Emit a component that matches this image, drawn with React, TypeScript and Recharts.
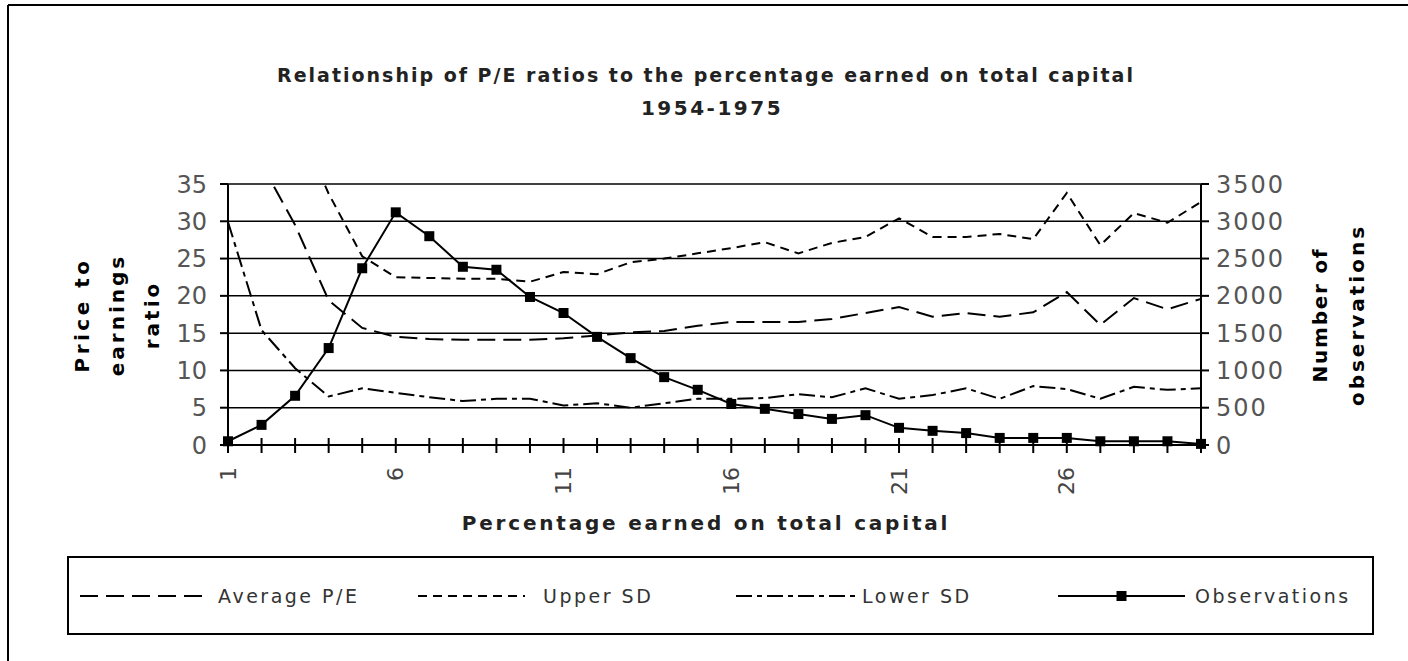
import React from "react";
import { CartesianGrid, Line, LineChart, XAxis, YAxis } from "recharts";

const categories = [1, 2, 3, 4, 5, 6, 7, 8, 9, 10, 11, 12, 13, 14, 15, 16, 17, 18, 19, 20, 21, 22, 23, 24, 25, 26, 27, 28, 29, 30];
const labelTicks = [1, 6, 11, 16, 21, 26];
const leftTicks = [0, 5, 10, 15, 20, 25, 30, 35];
const rightTicks = [0, 500, 1000, 1500, 2000, 2500, 3000, 3500];

const averagePE = [null, 37.7, 29.5, 19.4, 15.7, 14.5, 14.2, 14.1, 14.1, 14.1, 14.3, 14.7, 15.1, 15.3, 16.0, 16.5, 16.5, 16.5, 16.9, 17.7, 18.5, 17.2, 17.7, 17.2, 17.8, 20.5, 16.1, 19.7, 18.2, 19.6];
const upperSD = [null, null, 44, 33.7, 25.3, 22.5, 22.4, 22.3, 22.3, 21.9, 23.2, 22.9, 24.5, 25.0, 25.7, 26.4, 27.2, 25.7, 27.1, 27.9, 30.4, 27.9, 27.9, 28.3, 27.6, 33.8, 26.8, 31.1, 29.8, 32.6];
const lowerSD = [29.9, 15.4, 10.3, 6.5, 7.6, 7.0, 6.4, 5.9, 6.2, 6.2, 5.3, 5.6, 5.0, 5.6, 6.2, 6.2, 6.3, 6.8, 6.4, 7.6, 6.2, 6.7, 7.6, 6.2, 7.9, 7.5, 6.2, 7.8, 7.4, 7.6];
const observations = [50, 270, 660, 1300, 2370, 3120, 2800, 2390, 2350, 1985, 1770, 1450, 1165, 910, 740, 550, 485, 415, 350, 400, 230, 190, 160, 95, 95, 95, 50, 50, 50, 15];

const data = categories.map((c, i) => ({
  pct: c,
  avg: averagePE[i],
  upper: upperSD[i],
  lower: lowerSD[i],
  obs: observations[i],
}));

const FONT = "'DejaVu Sans', sans-serif";

const XTick = (props: any) => {
  const { x, y, payload } = props;
  const show = labelTicks.includes(payload.value);
  return (
    <g>
      <line x1={x} x2={x} y1={y - 7} y2={y + 8} stroke="#000" strokeWidth={2} />
      {show && (
        <text
          transform={`translate(${x},${y + 22}) rotate(-90)`}
          textAnchor="end"
          dominantBaseline="central"
          fontFamily={FONT}
          fontSize={22}
          fill="#444"
        >
          {payload.value}
        </text>
      )}
    </g>
  );
};

const SquareDot = (p: any) => {
  if (p.cx == null || p.cy == null) return <g key={p.index} />;
  return <rect key={p.index} x={p.cx - 5} y={p.cy - 5} width={10} height={10} fill="#000" />;
};

const legendItems = [
  { name: "Average P/E", dash: "18 8", x: 80, w: 130, tx: 218, marker: false },
  { name: "Upper SD", dash: "9 6", x: 418, w: 107, tx: 543, marker: false },
  { name: "Lower SD", dash: "16 5 5 5", x: 736, w: 119, tx: 862, marker: false },
  { name: "Observations", dash: undefined, x: 1058, w: 127, tx: 1195, marker: true },
];

const axisTitles = [
  { t: "Price to", x: 82, ls: 3.5 },
  { t: "earnings", x: 117, ls: 3 },
  { t: "ratio", x: 152, ls: 3 },
  { t: "Number of", x: 1320, ls: 1.8 },
  { t: "observations", x: 1357, ls: 3 },
];

export default function App() {
  return (
    <div style={{ position: "fixed", left: 0, top: 0, width: 1408, height: 661, background: "#fff", overflow: "hidden" }}>
      <LineChart
        width={1408}
        height={661}
        data={data}
        margin={{ top: 184, right: 107, bottom: 176, left: 168 }}
        style={{ position: "absolute", left: 0, top: 0 }}
      >
        <CartesianGrid yAxisId="left" vertical={false} stroke="#000" strokeWidth={1.5} />
        <XAxis
          dataKey="pct"
          type="number"
          domain={[1, 30]}
          ticks={categories}
          interval={0}
          height={40}
          tickSize={0}
          tickMargin={0}
          axisLine={{ stroke: "#000", strokeWidth: 2 }}
          tickLine={false}
          tick={<XTick />}
        />
        <YAxis
          yAxisId="left"
          domain={[0, 35]}
          ticks={leftTicks}
          allowDataOverflow
          width={60}
          tickSize={8}
          tickMargin={13}
          axisLine={{ stroke: "#000", strokeWidth: 2 }}
          tickLine={{ stroke: "#000", strokeWidth: 2 }}
          tick={{ fill: "#555", fontSize: 24, fontFamily: FONT }}
        />
        <YAxis
          yAxisId="right"
          orientation="right"
          domain={[0, 3500]}
          ticks={rightTicks}
          width={100}
          tickSize={8}
          tickMargin={7}
          axisLine={{ stroke: "#000", strokeWidth: 2 }}
          tickLine={{ stroke: "#000", strokeWidth: 2 }}
          tick={{ fill: "#555", fontSize: 24, fontFamily: FONT, textAnchor: "start", letterSpacing: 2 }}
        />
        <Line yAxisId="left" dataKey="avg" stroke="#000" strokeWidth={2} strokeDasharray="18 8" dot={false} isAnimationActive={false} />
        <Line yAxisId="left" dataKey="upper" stroke="#000" strokeWidth={2} strokeDasharray="9 6" dot={false} isAnimationActive={false} />
        <Line yAxisId="left" dataKey="lower" stroke="#000" strokeWidth={2} strokeDasharray="16 5 5 5" dot={false} isAnimationActive={false} />
        <Line yAxisId="right" dataKey="obs" stroke="#000" strokeWidth={2} dot={<SquareDot />} isAnimationActive={false} />
      </LineChart>
      <svg width={1408} height={661} style={{ position: "absolute", left: 0, top: 0, pointerEvents: "none" }}>
        <line x1={8} x2={1408} y1={5} y2={5} stroke="#000" strokeWidth={2} />
        <line x1={8} x2={8} y1={5} y2={661} stroke="#000" strokeWidth={2} />
        <g fontFamily={FONT} fontWeight="bold" fill="#222">
          <text x={706} y={75} textAnchor="middle" dominantBaseline="central" fontSize={19} letterSpacing={2}>
            Relationship of P/E ratios to the percentage earned on total capital
          </text>
          <text x={712} y={108} textAnchor="middle" dominantBaseline="central" fontSize={20} letterSpacing={2.5}>
            1954-1975
          </text>
          <text x={706} y={523} textAnchor="middle" dominantBaseline="central" fontSize={20} letterSpacing={2.8}>
            Percentage earned on total capital
          </text>
          {axisTitles.map((a) => (
            <text key={a.t} transform={`translate(${a.x},315) rotate(-90)`} textAnchor="middle" dominantBaseline="central" fontSize={20} letterSpacing={a.ls} fill="#000">
              {a.t}
            </text>
          ))}
        </g>
        <rect x={68} y={557} width={1305} height={77} fill="none" stroke="#000" strokeWidth={2} />
        {legendItems.map((it) => (
          <g key={it.name}>
            <line x1={it.x} x2={it.x + it.w} y1={596} y2={596} stroke="#000" strokeWidth={2} strokeDasharray={it.dash} />
            {it.marker && <rect x={it.x + it.w / 2 - 5} y={591} width={10} height={10} fill="#000" />}
            <text x={it.tx} y={596} dominantBaseline="central" fontFamily={FONT} fontSize={19} letterSpacing={2.5} fill="#333">
              {it.name}
            </text>
          </g>
        ))}
      </svg>
    </div>
  );
}
